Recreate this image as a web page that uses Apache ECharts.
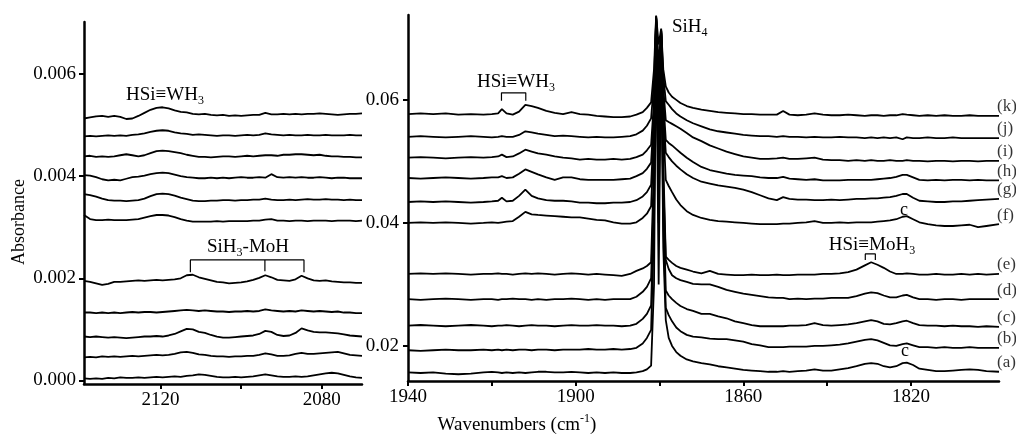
<!DOCTYPE html>
<html><head><meta charset="utf-8">
<script src="https://cdn.jsdelivr.net/npm/echarts@6/dist/echarts.min.js"></script>
<style>html,body{margin:0;padding:0;background:#fff}#c{width:1016px;height:436px}</style>
</head><body><div id="c"></div>
<script>
const FONT = '"Liberation Serif", "DejaVu Serif", serif';

// ---- axes ----
const leftYTicks = [0, 0.002, 0.004, 0.006];
const rightYTicks = [0.02, 0.04, 0.06];
const leftXTicks = [2120, 2100, 2080];
const leftXLabels = [2120, 2080];
const rightXTicks = [1940, 1920, 1900, 1880, 1860, 1840, 1820];
const rightXLabels = [1940, 1900, 1860, 1820];
const traceNames = ['(a)','(b)','(c)','(d)','(e)','(f)','(g)','(h)','(i)','(j)','(k)'];

// ---- left panel (2139-2070 cm-1) ----
const leftX = [2139,2137.5,2136,2134.5,2133,2131.5,2130,2128.5,2127,2125.5,2124,2122.5,2121,2119.5,2118,2116.5,2115,2113.5,2112,2110.5,2109,2107.5,2106,2104.5,2103,2101.5,2100,2098.5,2097,2095.5,2094,2092.5,2091,2089.5,2088,2086.5,2085,2083.5,2082,2080.5,2079,2077.5,2076,2074.5,2073,2071.5,2070];
const leftK = [0.00513,0.00515,0.00517,0.00518,0.00516,0.00518,0.00516,0.00512,0.00513,0.00518,0.00524,0.00530,0.00534,0.00535,0.00533,0.00529,0.00526,0.00525,0.00522,0.00521,0.00522,0.00520,0.00519,0.00520,0.00518,0.00519,0.00518,0.00519,0.00520,0.00520,0.00524,0.00521,0.00521,0.00522,0.00521,0.00522,0.00521,0.00522,0.00522,0.00523,0.00522,0.00521,0.00520,0.00521,0.00522,0.00522,0.00523];
const leftJ = [0.00478,0.00479,0.00478,0.00479,0.00480,0.00479,0.00480,0.00479,0.00481,0.00482,0.00484,0.00487,0.00489,0.00490,0.00489,0.00486,0.00484,0.00483,0.00481,0.00482,0.00481,0.00480,0.00479,0.00480,0.00480,0.00479,0.00480,0.00481,0.00480,0.00481,0.00484,0.00482,0.00481,0.00480,0.00481,0.00480,0.00480,0.00481,0.00480,0.00480,0.00481,0.00480,0.00480,0.00480,0.00481,0.00480,0.00480];
const leftI = [0.00439,0.00440,0.00438,0.00439,0.00438,0.00439,0.00441,0.00443,0.00441,0.00439,0.00441,0.00445,0.00449,0.00450,0.00449,0.00447,0.00445,0.00442,0.00440,0.00438,0.00438,0.00437,0.00438,0.00439,0.00439,0.00438,0.00439,0.00440,0.00439,0.00440,0.00441,0.00441,0.00440,0.00442,0.00442,0.00443,0.00443,0.00442,0.00441,0.00442,0.00440,0.00439,0.00439,0.00438,0.00438,0.00437,0.00437];
const leftH = [0.00402,0.00401,0.00398,0.00394,0.00392,0.00393,0.00392,0.00395,0.00398,0.00399,0.00401,0.00404,0.00406,0.00407,0.00406,0.00403,0.00400,0.00398,0.00397,0.00396,0.00396,0.00397,0.00396,0.00397,0.00396,0.00397,0.00398,0.00397,0.00397,0.00398,0.00397,0.00404,0.00398,0.00397,0.00398,0.00397,0.00398,0.00397,0.00397,0.00398,0.00397,0.00396,0.00397,0.00397,0.00396,0.00396,0.00396];
const leftG = [0.00365,0.00363,0.00360,0.00356,0.00353,0.00352,0.00352,0.00351,0.00352,0.00353,0.00356,0.00361,0.00365,0.00366,0.00365,0.00362,0.00358,0.00355,0.00352,0.00351,0.00351,0.00352,0.00352,0.00353,0.00353,0.00352,0.00353,0.00353,0.00354,0.00354,0.00356,0.00354,0.00353,0.00353,0.00354,0.00353,0.00354,0.00355,0.00354,0.00354,0.00355,0.00354,0.00354,0.00353,0.00354,0.00353,0.00353];
const leftF = [0.00324,0.00316,0.00314,0.00314,0.00315,0.00314,0.00314,0.00314,0.00315,0.00316,0.00319,0.00322,0.00324,0.00324,0.00323,0.00320,0.00316,0.00313,0.00311,0.00311,0.00311,0.00311,0.00312,0.00311,0.00312,0.00312,0.00312,0.00312,0.00313,0.00313,0.00315,0.00316,0.00313,0.00313,0.00312,0.00313,0.00313,0.00312,0.00313,0.00313,0.00313,0.00312,0.00313,0.00313,0.00313,0.00312,0.00313];
const leftE = [0.00195,0.00193,0.00190,0.00187,0.00189,0.00193,0.00193,0.00194,0.00195,0.00196,0.00195,0.00196,0.00197,0.00196,0.00197,0.00198,0.00200,0.00206,0.00207,0.00202,0.00199,0.00196,0.00193,0.00192,0.00190,0.00191,0.00192,0.00194,0.00197,0.00201,0.00206,0.00202,0.00197,0.00196,0.00195,0.00198,0.00205,0.00200,0.00196,0.00195,0.00196,0.00194,0.00193,0.00192,0.00192,0.00191,0.00191];
const leftD = [0.00133,0.00133,0.00132,0.00133,0.00132,0.00133,0.00132,0.00133,0.00134,0.00133,0.00134,0.00134,0.00133,0.00134,0.00135,0.00136,0.00137,0.00138,0.00137,0.00136,0.00137,0.00136,0.00135,0.00135,0.00134,0.00135,0.00135,0.00136,0.00135,0.00136,0.00139,0.00137,0.00136,0.00135,0.00136,0.00135,0.00137,0.00136,0.00135,0.00136,0.00135,0.00134,0.00135,0.00133,0.00133,0.00132,0.00132];
const leftC = [0.00086,0.00085,0.00086,0.00085,0.00084,0.00085,0.00084,0.00083,0.00084,0.00085,0.00086,0.00086,0.00087,0.00086,0.00088,0.00091,0.00096,0.00101,0.00100,0.00095,0.00093,0.00089,0.00086,0.00084,0.00084,0.00085,0.00086,0.00087,0.00088,0.00091,0.00097,0.00095,0.00089,0.00087,0.00088,0.00093,0.00102,0.00098,0.00095,0.00094,0.00094,0.00093,0.00092,0.00090,0.00088,0.00087,0.00086];
const leftB = [0.00045,0.00046,0.00045,0.00047,0.00046,0.00047,0.00046,0.00047,0.00048,0.00047,0.00048,0.00049,0.00050,0.00049,0.00050,0.00052,0.00055,0.00056,0.00054,0.00051,0.00050,0.00048,0.00047,0.00047,0.00046,0.00047,0.00047,0.00048,0.00048,0.00050,0.00053,0.00051,0.00048,0.00048,0.00049,0.00052,0.00054,0.00052,0.00052,0.00053,0.00054,0.00055,0.00056,0.00053,0.00050,0.00049,0.00048];
const leftA = [0.00004,0.00003,0.00004,0.00003,0.00005,0.00004,0.00006,0.00005,0.00005,0.00006,0.00005,0.00006,0.00007,0.00006,0.00007,0.00008,0.00007,0.00009,0.00010,0.00012,0.00011,0.00009,0.00007,0.00006,0.00006,0.00007,0.00006,0.00007,0.00008,0.00010,0.00012,0.00010,0.00008,0.00007,0.00007,0.00008,0.00007,0.00008,0.00010,0.00012,0.00014,0.00015,0.00014,0.00011,0.00008,0.00006,0.00005];

// ---- right panel (1940-1799 cm-1) ----
const rightX = [1940,1937,1934,1931,1928,1925,1922,1920,1918.5,1917.6,1916.5,1915,1913.5,1912,1910.5,1909,1907,1905,1903,1901,1899,1897,1895,1893,1891,1889,1887,1885.5,1884,1883,1882,1881.3,1880.8,1880.2,1879.6,1879.1,1878.5,1877.8,1877,1876,1875,1873.5,1872,1870,1868,1866,1864,1862,1860,1858,1856,1854,1852,1850.5,1849,1847,1845,1843,1841,1839,1837,1835,1833,1831,1829.5,1828,1826.5,1825,1823.5,1822,1821,1819.5,1818,1816,1814,1812,1810,1808,1806,1804,1802,1799];
const rightK = [0.0577,0.0578,0.0577,0.0578,0.0576,0.0577,0.0576,0.0577,0.0578,0.0585,0.0578,0.0576,0.0581,0.0592,0.0590,0.0587,0.0582,0.0579,0.0577,0.0580,0.0577,0.0576,0.0574,0.0573,0.0572,0.0572,0.0573,0.0576,0.0580,0.0587,0.0596,0.0650,0.0737,0.0690,0.0716,0.0650,0.0622,0.0612,0.0605,0.0600,0.0595,0.0590,0.0587,0.0584,0.0582,0.0580,0.0579,0.0578,0.0577,0.0577,0.0576,0.0576,0.0576,0.0582,0.0576,0.0575,0.0576,0.0578,0.0576,0.0575,0.0575,0.0576,0.0575,0.0574,0.0575,0.0575,0.0574,0.0575,0.0575,0.0577,0.0576,0.0575,0.0574,0.0575,0.0574,0.0575,0.0574,0.0574,0.0575,0.0574,0.0574,0.0574];
const rightJ = [0.0540,0.0541,0.0540,0.0539,0.0540,0.0541,0.0540,0.0539,0.0540,0.0541,0.0540,0.0540,0.0543,0.0549,0.0547,0.0545,0.0543,0.0541,0.0542,0.0541,0.0540,0.0539,0.0540,0.0539,0.0539,0.0540,0.0541,0.0544,0.0550,0.0558,0.0570,0.0630,0.0735,0.0500,0.0712,0.0640,0.0598,0.0592,0.0585,0.0578,0.0573,0.0567,0.0562,0.0557,0.0552,0.0549,0.0547,0.0545,0.0543,0.0542,0.0541,0.0541,0.0540,0.0541,0.0540,0.0540,0.0539,0.0540,0.0539,0.0539,0.0540,0.0539,0.0539,0.0538,0.0539,0.0538,0.0539,0.0538,0.0539,0.0536,0.0539,0.0538,0.0538,0.0539,0.0538,0.0538,0.0539,0.0538,0.0538,0.0538,0.0538,0.0538];
const rightI = [0.0506,0.0507,0.0506,0.0505,0.0506,0.0507,0.0506,0.0507,0.0508,0.0511,0.0507,0.0508,0.0513,0.0519,0.0516,0.0513,0.0511,0.0508,0.0506,0.0505,0.0503,0.0504,0.0503,0.0503,0.0504,0.0503,0.0504,0.0507,0.0511,0.0518,0.0527,0.0600,0.0733,0.0640,0.0714,0.0620,0.0567,0.0564,0.0561,0.0557,0.0553,0.0546,0.0539,0.0533,0.0526,0.0521,0.0516,0.0512,0.0508,0.0506,0.0504,0.0504,0.0505,0.0506,0.0504,0.0504,0.0505,0.0506,0.0503,0.0502,0.0502,0.0501,0.0502,0.0501,0.0502,0.0501,0.0501,0.0502,0.0501,0.0501,0.0502,0.0501,0.0501,0.0500,0.0501,0.0501,0.0500,0.0501,0.0501,0.0500,0.0501,0.0501];
const rightH = [0.0473,0.0472,0.0473,0.0474,0.0473,0.0472,0.0473,0.0474,0.0474,0.0476,0.0473,0.0474,0.0480,0.0487,0.0483,0.0479,0.0474,0.0470,0.0474,0.0474,0.0471,0.0470,0.0470,0.0470,0.0470,0.0471,0.0472,0.0476,0.0481,0.0488,0.0498,0.0580,0.0736,0.0580,0.0713,0.0600,0.0535,0.0530,0.0526,0.0520,0.0514,0.0506,0.0499,0.0491,0.0486,0.0483,0.0480,0.0478,0.0477,0.0476,0.0474,0.0473,0.0473,0.0475,0.0472,0.0471,0.0470,0.0471,0.0469,0.0469,0.0469,0.0470,0.0470,0.0470,0.0470,0.0471,0.0472,0.0473,0.0475,0.0478,0.0478,0.0474,0.0470,0.0469,0.0470,0.0469,0.0470,0.0470,0.0469,0.0470,0.0469,0.0469];
const rightG = [0.0434,0.0435,0.0434,0.0435,0.0434,0.0433,0.0434,0.0435,0.0436,0.0441,0.0435,0.0436,0.0444,0.0454,0.0444,0.0440,0.0437,0.0436,0.0436,0.0435,0.0433,0.0433,0.0432,0.0432,0.0433,0.0433,0.0434,0.0437,0.0443,0.0450,0.0462,0.0560,0.0734,0.0470,0.0711,0.0580,0.0514,0.0507,0.0500,0.0493,0.0487,0.0479,0.0473,0.0467,0.0464,0.0461,0.0459,0.0457,0.0454,0.0450,0.0445,0.0440,0.0437,0.0442,0.0439,0.0438,0.0438,0.0437,0.0437,0.0438,0.0437,0.0438,0.0439,0.0439,0.0440,0.0440,0.0441,0.0442,0.0444,0.0447,0.0447,0.0441,0.0436,0.0435,0.0434,0.0434,0.0435,0.0435,0.0436,0.0437,0.0438,0.0439];
const rightF = [0.0400,0.0401,0.0400,0.0401,0.0400,0.0399,0.0400,0.0401,0.0400,0.0401,0.0402,0.0403,0.0410,0.0418,0.0414,0.0413,0.0412,0.0411,0.0410,0.0409,0.0409,0.0407,0.0405,0.0404,0.0401,0.0399,0.0399,0.0401,0.0408,0.0415,0.0427,0.0540,0.0732,0.0660,0.0708,0.0560,0.0470,0.0460,0.0450,0.0438,0.0429,0.0419,0.0413,0.0408,0.0405,0.0403,0.0402,0.0401,0.0400,0.0399,0.0398,0.0398,0.0398,0.0399,0.0399,0.0400,0.0401,0.0403,0.0400,0.0400,0.0401,0.0400,0.0401,0.0401,0.0401,0.0402,0.0403,0.0404,0.0406,0.0410,0.0411,0.0406,0.0401,0.0398,0.0396,0.0395,0.0395,0.0396,0.0397,0.0393,0.0395,0.0398];
const rightE = [0.0317,0.0318,0.0317,0.0318,0.0317,0.0316,0.0317,0.0317,0.0318,0.0317,0.0317,0.0316,0.0317,0.0318,0.0317,0.0318,0.0317,0.0316,0.0317,0.0318,0.0317,0.0316,0.0317,0.0316,0.0315,0.0314,0.0317,0.0322,0.0326,0.0330,0.0336,0.0500,0.0735,0.0530,0.0712,0.0500,0.0345,0.0340,0.0335,0.0330,0.0327,0.0324,0.0321,0.0318,0.0322,0.0317,0.0316,0.0315,0.0315,0.0316,0.0315,0.0315,0.0316,0.0315,0.0315,0.0316,0.0316,0.0316,0.0317,0.0317,0.0318,0.0320,0.0324,0.0331,0.0336,0.0332,0.0327,0.0321,0.0317,0.0317,0.0318,0.0317,0.0316,0.0316,0.0317,0.0316,0.0316,0.0317,0.0316,0.0317,0.0316,0.0317];
const rightD = [0.0276,0.0275,0.0276,0.0277,0.0276,0.0275,0.0276,0.0276,0.0275,0.0276,0.0276,0.0277,0.0276,0.0276,0.0275,0.0276,0.0275,0.0276,0.0276,0.0277,0.0276,0.0275,0.0276,0.0275,0.0276,0.0276,0.0276,0.0280,0.0288,0.0296,0.0310,0.0460,0.0734,0.0400,0.0710,0.0470,0.0340,0.0325,0.0315,0.0310,0.0307,0.0304,0.0301,0.0300,0.0300,0.0296,0.0291,0.0288,0.0285,0.0283,0.0281,0.0279,0.0278,0.0278,0.0276,0.0277,0.0276,0.0277,0.0277,0.0278,0.0278,0.0278,0.0281,0.0285,0.0287,0.0286,0.0282,0.0279,0.0279,0.0282,0.0283,0.0279,0.0276,0.0276,0.0275,0.0276,0.0276,0.0275,0.0276,0.0276,0.0276,0.0276];
const rightC = [0.0233,0.0234,0.0233,0.0232,0.0233,0.0234,0.0233,0.0232,0.0233,0.0233,0.0234,0.0233,0.0232,0.0233,0.0234,0.0233,0.0233,0.0232,0.0233,0.0234,0.0233,0.0233,0.0234,0.0233,0.0233,0.0232,0.0233,0.0236,0.0244,0.0252,0.0266,0.0430,0.0733,0.0600,0.0709,0.0440,0.0290,0.0282,0.0276,0.0270,0.0265,0.0260,0.0257,0.0252,0.0252,0.0248,0.0245,0.0240,0.0237,0.0234,0.0232,0.0232,0.0232,0.0232,0.0233,0.0233,0.0234,0.0237,0.0234,0.0233,0.0234,0.0235,0.0237,0.0240,0.0242,0.0240,0.0236,0.0235,0.0237,0.0240,0.0241,0.0237,0.0234,0.0233,0.0233,0.0232,0.0233,0.0232,0.0232,0.0231,0.0232,0.0231];
const rightB = [0.0193,0.0192,0.0193,0.0194,0.0193,0.0193,0.0194,0.0193,0.0194,0.0193,0.0194,0.0193,0.0194,0.0194,0.0193,0.0194,0.0194,0.0193,0.0194,0.0194,0.0194,0.0195,0.0194,0.0194,0.0195,0.0194,0.0195,0.0197,0.0204,0.0213,0.0226,0.0400,0.0732,0.0450,0.0707,0.0400,0.0262,0.0250,0.0240,0.0230,0.0224,0.0218,0.0215,0.0214,0.0212,0.0211,0.0211,0.0209,0.0207,0.0203,0.0201,0.0198,0.0198,0.0198,0.0199,0.0199,0.0199,0.0200,0.0200,0.0201,0.0202,0.0204,0.0207,0.0210,0.0211,0.0209,0.0205,0.0201,0.0200,0.0203,0.0204,0.0201,0.0198,0.0198,0.0197,0.0198,0.0197,0.0197,0.0198,0.0197,0.0197,0.0197];
const rightA = [0.0157,0.0156,0.0157,0.0155,0.0154,0.0155,0.0157,0.0158,0.0157,0.0156,0.0157,0.0156,0.0157,0.0156,0.0157,0.0158,0.0158,0.0157,0.0157,0.0158,0.0157,0.0156,0.0157,0.0156,0.0157,0.0156,0.0156,0.0157,0.0159,0.0162,0.0168,0.0300,0.0730,0.0300,0.0705,0.0360,0.0242,0.0213,0.0200,0.0190,0.0184,0.0178,0.0175,0.0172,0.0170,0.0167,0.0165,0.0163,0.0161,0.0160,0.0159,0.0158,0.0158,0.0159,0.0158,0.0159,0.0160,0.0162,0.0160,0.0160,0.0162,0.0164,0.0167,0.0171,0.0172,0.0171,0.0167,0.0165,0.0167,0.0172,0.0173,0.0169,0.0163,0.0161,0.0159,0.0159,0.0160,0.0161,0.0162,0.0161,0.0159,0.0158];

// ---- annotation brackets (data coordinates) ----
const bracketSiH3MoH = [[2112.6,0.00212],[2112.6,0.00236],[2084.4,0.00236],[2084.4,0.00212]];
const bracketSiH3MoHMid = [[2094.1,0.00236],[2094.1,0.00214]];
const bracketWH3 = [[1917.7,0.05984],[1917.7,0.06114],[1911.9,0.06114],[1911.9,0.05984]];
const bracketMoH3 = [[1830.9,0.03398],[1830.9,0.03496],[1828.5,0.03496],[1828.5,0.03398]];

const leftTraces = [leftA,leftB,leftC,leftD,leftE,leftF,leftG,leftH,leftI,leftJ,leftK];
const rightTraces = [rightA,rightB,rightC,rightD,rightE,rightF,rightG,rightH,rightI,rightJ,rightK];

function pairs(xs, ys) { return xs.map((x, i) => [x, ys[i]]); }
const lineStyle = { color: '#000', width: 1.8 };
const series = [];
leftTraces.forEach((ys) => series.push({ type: 'line', xAxisIndex: 0, yAxisIndex: 0, data: pairs(leftX, ys), symbol: 'none', showSymbol: false, lineStyle, silent: true }));
rightTraces.forEach((ys) => series.push({ type: 'line', xAxisIndex: 1, yAxisIndex: 1, data: pairs(rightX, ys), symbol: 'none', showSymbol: false, lineStyle, silent: true }));
[[bracketSiH3MoH, 0], [bracketSiH3MoHMid, 0], [bracketWH3, 1], [bracketMoH3, 1]].forEach(([d, g]) => series.push({
  type: 'line', xAxisIndex: g, yAxisIndex: g, data: d, symbol: 'none', showSymbol: false, lineStyle: { color: '#000', width: 1.2 }, silent: true
}));
series.push({
  type: 'scatter', xAxisIndex: 1, yAxisIndex: 1, symbolSize: 0, silent: true,
  data: rightTraces.map((ys, i) => [rightX[rightX.length - 1], ys[ys.length - 1], traceNames[i]]),
  label: { show: true, position: 'right', distance: 1, offset: [-3, -9], formatter: (p) => p.data[2], color: '#000', fontSize: 17, fontFamily: FONT }
});

function xAxisCfg(grid, min, max, ticks, labels) {
  return {
    gridIndex: grid, type: 'value', inverse: true, min, max,
    axisLine: { show: true, onZero: false, lineStyle: { color: '#000', width: 2.5 } },
    axisTick: { show: true, customValues: ticks, length: 5, lineStyle: { color: '#000', width: 2 } },
    axisLabel: { show: true, customValues: labels, formatter: (v) => String(v), color: '#000', fontSize: 19, fontFamily: FONT, margin: 7 },
    splitLine: { show: false }
  };
}
function yAxisCfg(grid, min, max, ticks, digits, margin) {
  return {
    gridIndex: grid, type: 'value', min, max,
    axisLine: { show: true, onZero: false, lineStyle: { color: '#000', width: 2.5 } },
    axisTick: { show: true, customValues: ticks, length: 5, lineStyle: { color: '#000', width: 2 } },
    axisLabel: { show: true, customValues: ticks, formatter: (v) => Number(v).toFixed(digits), color: '#000', fontSize: 19, fontFamily: FONT, margin },
    splitLine: { show: false }
  };
}

const sub = { fontSize: 12, fontFamily: FONT, verticalAlign: 'bottom', fill: '#000' };
const sup = { fontSize: 12, fontFamily: FONT, verticalAlign: 'top', fill: '#000' };
function txt(x, y, text, opts) {
  return Object.assign({ type: 'text', x, y, silent: true, style: Object.assign({
    text, fontSize: 19, fontFamily: FONT, fill: '#000', align: 'center', verticalAlign: 'middle', lineHeight: 24, rich: { s: sub, p: sup }
  }, (opts && opts.style) || {}) }, (opts && opts.el) || {});
}

const chart = echarts.init(document.getElementById('c'), null, { renderer: 'canvas' });
chart.setOption({
  animation: false,
  backgroundColor: '#fff',
  grid: [
    { left: 84, top: 22, width: 278, height: 362 },
    { left: 408, top: 15, width: 591, height: 366 }
  ],
  xAxis: [
    xAxisCfg(0, 2070, 2139, leftXTicks, leftXLabels),
    xAxisCfg(1, 1799, 1940, rightXTicks, rightXLabels)
  ],
  yAxis: [
    yAxisCfg(0, -0.00007, 0.00702, leftYTicks, 3, 8),
    yAxisCfg(1, 0.0143, 0.0738, rightYTicks, 2, 9)
  ],
  series,
  graphic: [
    txt(19, 222, 'Absorbance', { el: { rotation: Math.PI / 2 }, style: { fontSize: 18 } }),
    txt(517, 425, 'Wavenumbers (cm{p|-1})'),
    txt(165, 95, 'HSi≡WH{s|3}'),
    txt(248, 247, 'SiH{s|3}-MoH'),
    txt(516, 82, 'HSi≡WH{s|3}'),
    txt(672, 27, 'SiH{s|4}', { style: { align: 'left' } }),
    txt(872, 245, 'HSi≡MoH{s|3}'),
    txt(904, 210, 'c', { style: { fontSize: 18 } }),
    txt(905, 351, 'c', { style: { fontSize: 18 } })
  ]
});
</script>
</body></html>
